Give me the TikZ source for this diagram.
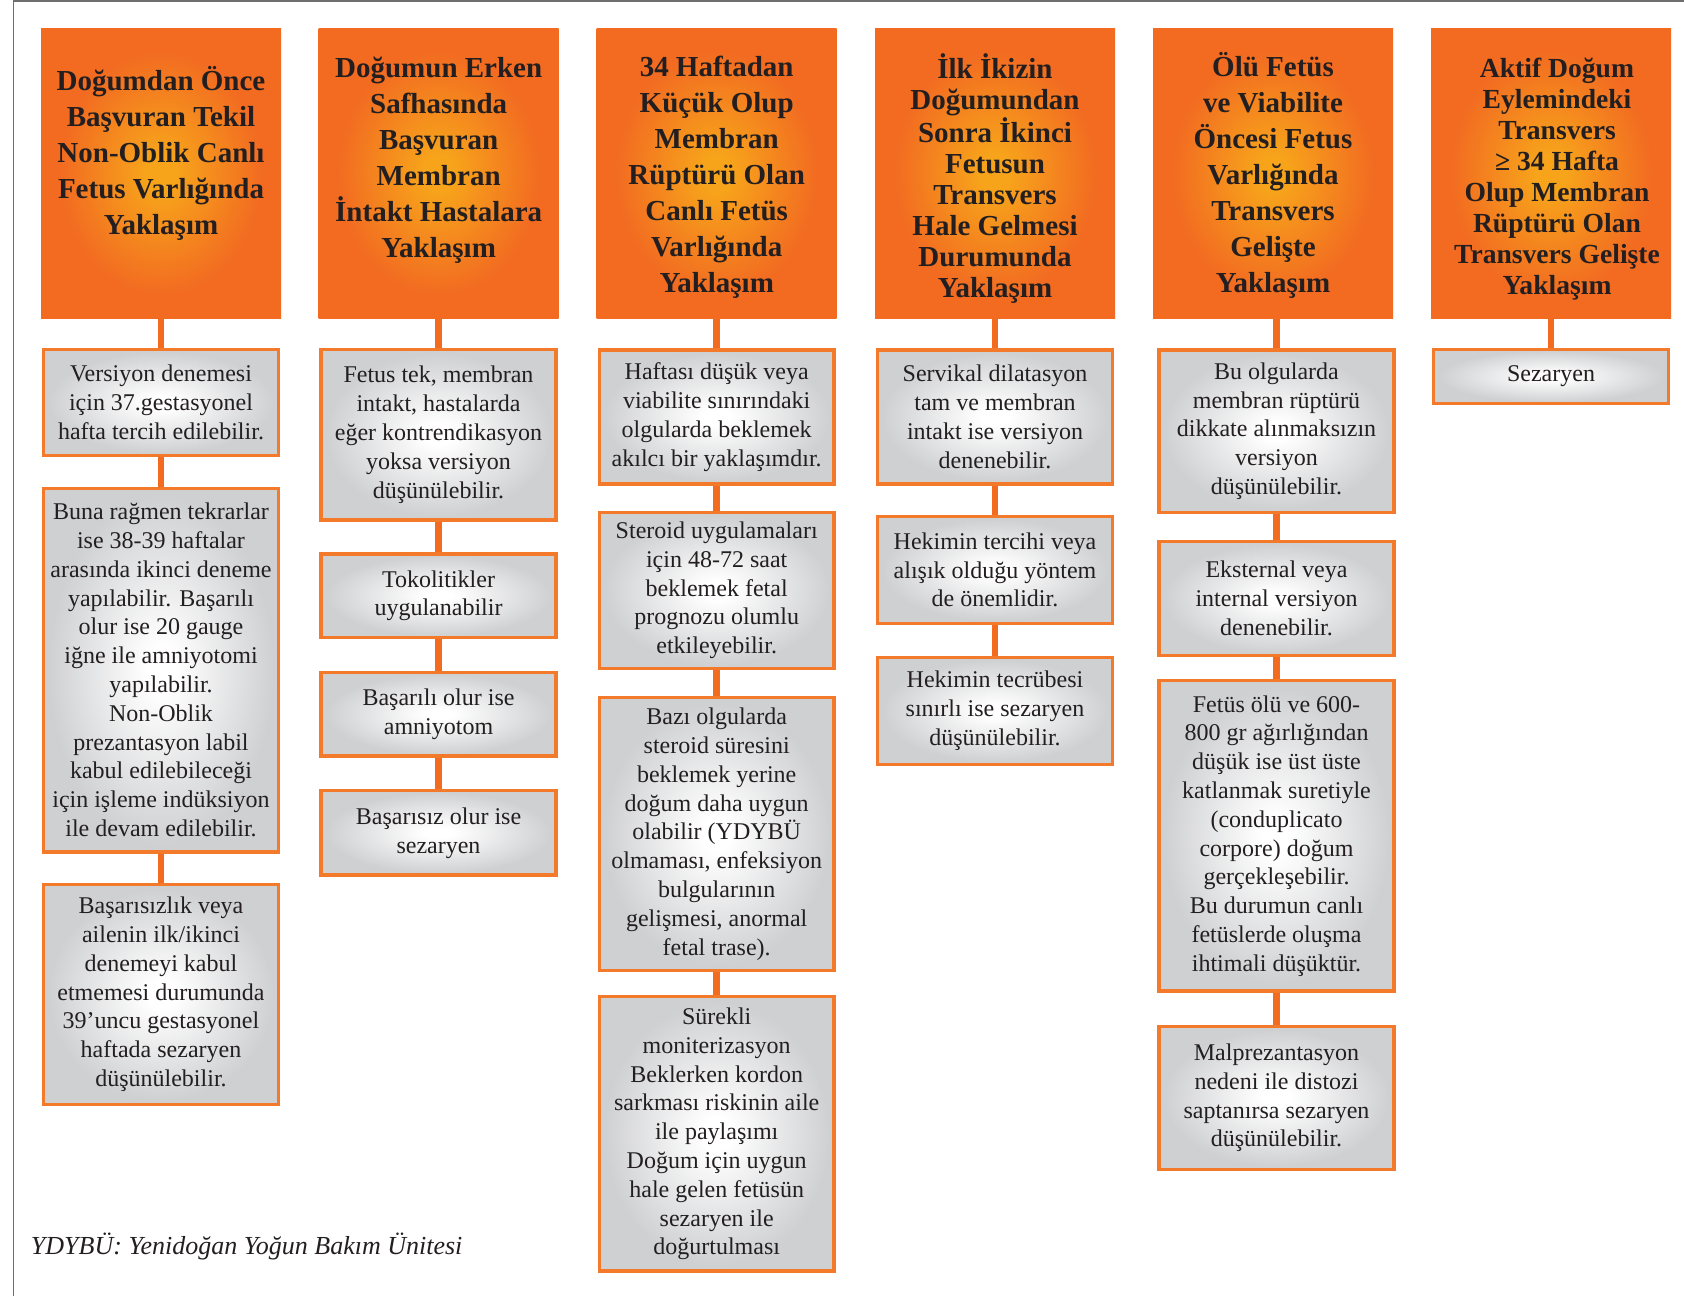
\documentclass[tikz,border=0pt]{standalone}
\usepackage{fontspec}
\setmainfont{Liberation Serif}
\definecolor{hdrO}{HTML}{F26B21}
\definecolor{hdrY}{HTML}{F7A41B}
\definecolor{boxE}{HTML}{CFD0D2}
\definecolor{bord}{HTML}{F47A2B}
\definecolor{txt}{HTML}{231F20}
\definecolor{frm}{HTML}{6D6E70}
\pgfdeclareradialshading{hdrshade}{\pgfpoint{0bp}{0bp}}{color(0bp)=(hdrY); color(3bp)=(hdrY); color(21bp)=(hdrO); color(50bp)=(hdrO)}
\pgfdeclareradialshading{boxshade}{\pgfpoint{0bp}{0bp}}{color(0bp)=(white); color(3bp)=(white); color(24bp)=(boxE); color(50bp)=(boxE)}
\tikzset{
  hdr/.style={rectangle, shading=hdrshade, minimum width=120pt, minimum height=145pt, inner sep=0pt},
  htext/.style={font=\fontsize{14.5}{18}\selectfont\bfseries, text=txt, align=center, inner sep=0pt},
  htight/.style={font=\fontsize{14.5}{15.5}\selectfont\bfseries},
  htighter/.style={font=\fontsize{13.8}{15.5}\selectfont\bfseries},
  gbox/.style={rectangle, draw=bord, line width=1.65pt, shading=boxshade, minimum width=117.4pt, inner sep=0pt, align=center, text=txt, font=\fontsize{12}{14.4}\selectfont},
  conn/.style={draw=hdrO, line width=3.4pt},
  foot/.style={font=\fontsize{13}{15}\selectfont\itshape, text=txt, anchor=west, inner sep=0pt}
}
\begin{document}
\begin{tikzpicture}[x=0.5pt,y=-0.5pt]
\useasboundingbox (0,0) rectangle (1684,1296);
\fill[white] (0,0) rectangle (1684,1296);
\draw[frm, line width=0.75pt] (13.4,1296) -- (13.4,1) -- (1684,1);

% headers
\node[hdr] (h1) at (161,173) {};
\node[hdr] (h2) at (438.7,173) {};
\node[hdr] (h3) at (716.7,173) {};
\node[hdr] (h4) at (995,173) {};
\node[hdr] (h5) at (1273,173) {};
\node[hdr] (h6) at (1551,173) {};

\node[htext] (t1) at (161,153.5) {Doğumdan Önce\\Başvuran Tekil\\Non-Oblik Canlı\\Fetus Varlığında\\Yaklaşım};
\node[htext] (t2) at (438.7,160.3) {Doğumun Erken\\Safhasında\\Başvuran\\Membran\\İntakt Hastalara\\Yaklaşım};
\node[htext] (t3) at (716.7,177.5) {34 Haftadan\\Küçük Olup\\Membran\\Rüptürü Olan\\Canlı Fetüs\\Varlığında\\Yaklaşım};
\node[htext,htight] (t4) at (995,178.7) {İlk İkizin\\Doğumundan\\Sonra İkinci\\Fetusun\\Transvers\\Hale Gelmesi\\Durumunda\\Yaklaşım};
\node[htext] (t5) at (1273,175.5) {Ölü Fetüs\\ve Viabilite\\Öncesi Fetus\\Varlığında\\Transvers\\Gelişte\\Yaklaşım};
\node[htext,htighter] (t6) at (1557,178.7) {Aktif Doğum\\Eylemindeki\\Transvers\\≥ 34 Hafta\\Olup Membran\\Rüptürü Olan\\Transvers Gelişte\\Yaklaşım};

% column 1
\node[gbox, minimum height=52.85pt] (b11) at (161,402.5) {Versiyon denemesi\\için 37.gestasyonel\\hafta tercih edilebilir.};
\node[gbox, minimum height=181.85pt] (b12) at (161,670) {Buna rağmen tekrarlar\\ise 38-39 haftalar\\arasında ikinci deneme\\yapılabilir. Başarılı\\olur ise 20 gauge\\iğne ile amniyotomi\\yapılabilir.\\Non-Oblik\\prezantasyon labil\\kabul edilebileceği\\için işleme indüksiyon\\ile devam edilebilir.};
\node[gbox, minimum height=110.1pt] (b13) at (161,994.25) {Başarısızlık veya\\ailenin ilk/ikinci\\denemeyi kabul\\etmemesi durumunda\\39’uncu gestasyonel\\haftada sezaryen\\düşünülebilir.};

% column 2
\node[gbox, minimum height=85.1pt] (b21) at (438.5,434.75) {Fetus tek, membran\\intakt, hastalarda\\eğer kontrendikasyon\\yoksa versiyon\\düşünülebilir.};
\node[gbox, minimum height=41.85pt] (b22) at (438.5,595.8) {Tokolitikler\\uygulanabilir};
\node[gbox, minimum height=41.85pt] (b23) at (438.5,714.2) {Başarılı olur ise\\amniyotom};
\node[gbox, minimum height=42.2pt] (b24) at (438.5,832.85) {Başarısız olur ise\\sezaryen};

% column 3
\node[gbox, minimum height=67.05pt] (b31) at (716.7,417) {Haftası düşük veya\\viabilite sınırındaki\\olgularda beklemek\\akılcı bir yaklaşımdır.};
\node[gbox, minimum height=78pt] (b32) at (716.7,590.35) {Steroid uygulamaları\\için 48-72 saat\\beklemek fetal\\prognozu olumlu\\etkileyebilir.};
\node[gbox, minimum height=136.5pt] (b33) at (716.7,834.15) {Bazı olgularda\\steroid süresini\\beklemek yerine\\doğum daha uygun\\olabilir (YDYBÜ\\olmaması, enfeksiyon\\bulgularının\\gelişmesi, anormal\\fetal trase).};
\node[gbox, minimum height=137.2pt] (b34) at (716.7,1133.85) {Sürekli\\moniterizasyon\\Beklerken kordon\\sarkması riskinin aile\\ile paylaşımı\\Doğum için uygun\\hale gelen fetüsün\\sezaryen ile\\doğurtulması};

% column 4
\node[gbox, minimum height=67.05pt] (b41) at (995,417) {Servikal dilatasyon\\tam ve membran\\intakt ise versiyon\\denenebilir.};
\node[gbox, minimum height=53.35pt] (b42) at (995,570) {Hekimin tercihi veya\\alışık olduğu yöntem\\de önemlidir.};
\node[gbox, minimum height=53.5pt] (b43) at (995,710.85) {Hekimin tecrübesi\\sınırlı ise sezaryen\\düşünülebilir.};

% column 5
\node[gbox, minimum height=81.2pt] (b51) at (1276.5,431.15) {Bu olgularda\\membran rüptürü\\dikkate alınmaksızın\\versiyon\\düşünülebilir.};
\node[gbox, minimum height=56.85pt] (b52) at (1276.5,598.5) {Eksternal veya\\internal versiyon\\denenebilir.};
\node[gbox, minimum height=155.2pt] (b53) at (1276.5,835.85) {Fetüs ölü ve 600-\\800 gr ağırlığından\\düşük ise üst üste\\katlanmak suretiyle\\(conduplicato\\corpore) doğum\\gerçekleşebilir.\\Bu durumun canlı\\fetüslerde oluşma\\ihtimali düşüktür.};
\node[gbox, minimum height=71.35pt] (b54) at (1276.5,1098) {Malprezantasyon\\nedeni ile distozi\\saptanırsa sezaryen\\düşünülebilir.};

% column 6
\node[gbox, minimum height=26.85pt] (b61) at (1551,376.5) {Sezaryen};

% connectors
\foreach \c in {1,...,6}{
  \draw[conn] (h\c.south -| b\c1.north) -- (b\c1.north);
}
\draw[conn] (b11.south) -- (b12.north);
\draw[conn] (b12.south) -- (b13.north);
\draw[conn] (b21.south) -- (b22.north);
\draw[conn] (b22.south) -- (b23.north);
\draw[conn] (b23.south) -- (b24.north);
\draw[conn] (b31.south) -- (b32.north);
\draw[conn] (b32.south) -- (b33.north);
\draw[conn] (b33.south) -- (b34.north);
\draw[conn] (b41.south) -- (b42.north);
\draw[conn] (b42.south) -- (b43.north);
\draw[conn] (b51.south) -- (b52.north);
\draw[conn] (b52.south) -- (b53.north);
\draw[conn] (b53.south) -- (b54.north);

\node[foot] (fn) at (30.6,1246) {YDYBÜ: Yenidoğan Yoğun Bakım Ünitesi};
\end{tikzpicture}
\end{document}
